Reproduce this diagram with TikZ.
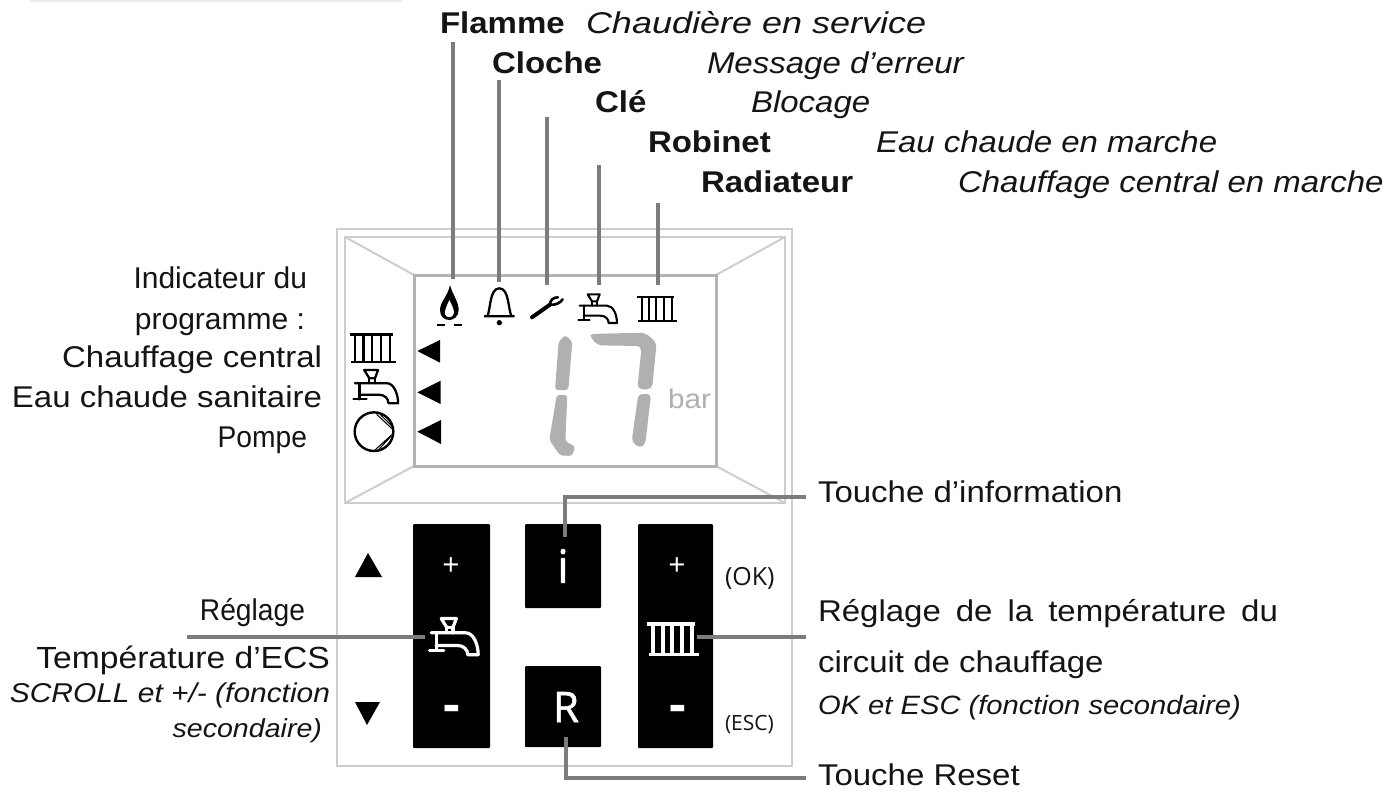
\documentclass[tikz,border=0pt]{standalone}
\usepackage{fontspec}
\setmainfont[FakeStretch=1.1]{Liberation Sans}
\newfontfamily\opensans{Open Sans}
\newfontfamily\opensemi[FakeBold=1.3]{Open Sans}
\newfontfamily\stA[FakeStretch=1.0]{Liberation Sans}
\newfontfamily\stB[FakeStretch=.94]{Liberation Sans}
\newfontfamily\stC[FakeStretch=1.2]{Liberation Sans}
\definecolor{txt}{HTML}{141414}
\definecolor{lead}{HTML}{7C7C7C}
\definecolor{pane}{HTML}{CDCDCD}
\definecolor{seg}{HTML}{B0B0B0}
\newcommand{\fs}[1]{\fontsize{#1}{#1}\selectfont}
\tikzset{
 lbl/.style={inner sep=0pt,outer sep=0pt,text=txt,font=\fs{30}},
 lw/.style={lbl,anchor=base west},
 le/.style={lbl,anchor=base east},
 bw/.style={lw,font=\fs{30}\bfseries},
 iw/.style={lw,font=\fs{30}\itshape},
 leader/.style={draw=lead,line width=3.2pt},
 paneline/.style={draw=pane,line width=2pt},
 btn/.style={fill=black,draw=none,rounded corners=1pt,inner sep=0pt,outer sep=0pt,anchor=north west},
 btxt/.style={text=white,inner sep=0pt,outer sep=0pt,font=\opensans},
 side/.style={text=txt,inner sep=0pt,outer sep=0pt,font=\opensans\fs{25},anchor=base west},
}
% icons: local units are the 3x zoom pixels
\newcommand{\tapicon}[5]{%
 \begin{scope}[shift={(#1,#2)},scale=#3,draw=#4,line width=#5,line join=round,line cap=round]
  \draw (-28,-44)--(8,-44)--(0,-23)--(-15,-23)--cycle;
  \draw (-15,-23)--(-15,-10) (0,-23)--(0,-10);
  \draw (-52,-10)--(30,-10) .. controls (50,-10) and (60,20) .. (60,42)--(35,42) .. controls (35,30) and (25,20) .. (10,20)--(-40,20);
  \draw (-40,-10)--(-40,32) (-56,32)--(-22,32);
 \end{scope}}
\newcommand{\radicon}[5]{%
 \begin{scope}[shift={(#1,#2)},scale=#3,draw=#4,line width=#5]
  \draw (-60,-35)--(50,-35) (-56,36)--(60,36);
  \foreach \vx in {-46,-24,-2,20,44}{\draw (\vx,-35)--(\vx,36);}
 \end{scope}}
\begin{document}
\begin{tikzpicture}[x=1pt,y=-1pt]
\useasboundingbox (0,0) rectangle (1392,793);
\fill[black!7] (30,0) rectangle (403,2);
% housing
\draw[paneline] (337,229) rectangle (792,766);
\draw[paneline] (345,237) rectangle (785,503);
\draw[paneline] (345,237)--(414,275) (785,237)--(716,275) (345,503)--(414,466) (785,503)--(716,466);
\draw[draw=pane!88!black,line width=3pt] (414,275) rectangle (716,466);
% named leader ends
\foreach \nm/\xa/\ya/\yb in {Fl/453/42/279,Cl/499/80/282,Ke/547/117/285,Ta/599/165/285,Ra/658/203/285}{
 \coordinate (\nm a) at (\xa,\ya); \coordinate (\nm b) at (\xa,\yb);}
\coordinate (iIn) at (565,537); \coordinate (iOut) at (806,497);
\coordinate (rIn) at (566,737); \coordinate (rOut) at (806,778);
\coordinate (hIn) at (697,637); \coordinate (hOut) at (806,637);
\coordinate (wIn) at (425,637); \coordinate (wOut) at (187,637);
% buttons
\node[btn,minimum width=77pt,minimum height=224pt] (btnW) at (413,524) {};
\node[btn,minimum width=76pt,minimum height=84pt] (btnI) at (525,524) {};
\node[btn,minimum width=76pt,minimum height=81pt] (btnR) at (525,666) {};
\node[btn,minimum width=75pt,minimum height=224pt] (btnH) at (638,524) {};
\node[btxt,font=\opensans\fs{30}] (pW) at (451,567) {+};
\node[btxt,font=\opensans\bfseries\fs{52}] (mW) at (452,714) {-};
\node[btxt,font=\opensans\fs{30}] (pH) at (677,567) {+};
\node[btxt,font=\opensans\bfseries\fs{52}] (mH) at (678,714) {-};
\node[btxt,font=\opensemi\fs{46}] (tI) at (563,566) {i};
\node[btxt,font=\opensemi\fs{42}] (tR) at (566,707) {R};
% leaders
\draw[leader] (Fla)--(Flb);
\draw[leader] (Cla)--(Clb);
\draw[leader] (Kea)--(Keb);
\draw[leader] (Taa)--(Tab);
\draw[leader] (Raa)--(Rab);
\draw[leader] (iIn)--(iIn|-iOut)--(iOut);
\draw[leader] (rIn)--(rIn|-rOut)--(rOut);
\draw[leader] (hIn)--(hOut);
\draw[leader] (wIn)--(wOut);
% top icons
\begin{scope}[shift={(330,220)},scale=1/3]
 \fill[black] (360,195) .. controls (368,225) and (386,245) .. (386,270) .. controls (386,290) and (370,300) .. (358,300) .. controls (343,300) and (330,290) .. (330,270) .. controls (330,245) and (353,230) .. cycle;
 \fill[white] (358,240) .. controls (368,260) and (374,272) .. (371,282) .. controls (367,295) and (348,295) .. (345,282) .. controls (343,272) and (350,258) .. cycle;
 \draw[black,line width=2.4pt] (320,315)--(345,315) (372,315)--(397,315);
 \draw[black,line width=2.3pt,line join=round] (462,289)--(554,289) (472,289) .. controls (482,270) and (478,205) .. (508,205) .. controls (538,205) and (534,270) .. (545,289);
 \fill[black] (508,308) circle (8);
 \draw[black,line width=4pt,line cap=round] (606,292)--(660,254);
 \draw[black,line width=2.6pt,line cap=round] (660,254) .. controls (675,256) and (690,250) .. (698,238);
 \draw[black,line width=2.6pt,line cap=round] (660,254) .. controls (660,240) and (670,232) .. (684,232);
 % pump
 \draw[black,line width=2.4pt] (132,635) circle (58);
 \draw[black,line width=1pt] (140,583)--(190,630) (152,585)--(190,622) (190,640)--(135,690) (182,650)--(145,690);
 % pointers
 \fill[black] (262,393)--(330,360)--(330,428)--cycle;
 \fill[black] (262,517)--(332,482)--(332,552)--cycle;
 \fill[black] (262,635)--(333,600)--(333,672)--cycle;
 % digit segments
 \fill[seg,rounded corners=3pt] (706,345)--(727,365)--(715,510)--(675,510)--(686,365)--cycle;
 \fill[seg,rounded corners=3pt] (680,525)--(712,525)--(706,664)--(736,680)--(726,708)--(690,706)--(658,660)--cycle;
 \fill[seg,rounded corners=5pt] (775,342)--(945,338)--(980,368)--(966,508)--(922,508)--(935,378)--(802,376)--cycle;
 \fill[seg,rounded corners=4pt] (925,522)--(963,522)--(946,672)--(930,684)--(905,665)--cycle;
\end{scope}
\tapicon{597}{309}{1/3}{black}{2.1pt}
\radicon{657}{309}{1/3}{black}{2.3pt}
\radicon{373}{348}{.39}{black}{2.5pt}
\tapicon{375}{387}{.385}{black}{2.3pt}
\tapicon{453}{637}{.42}{white}{3.2pt}
\radicon{673}{639}{.43}{white}{3.8pt}
\fill[black] (368,553)--(355,577)--(382,577)--cycle;
\fill[black] (355,702)--(380,702)--(367,725)--cycle;
% labels
\node[bw] (n1) at (440,33) {Flamme};
\node[iw,font=\stC\fs{30}\itshape] (n2) at (586,33) {Chaudière en service};
\node[bw] (n3) at (492,73) {Cloche};
\node[iw] (n4) at (707,73) {Message d’erreur};
\node[bw] (n5) at (595,112) {Clé};
\node[iw] (n6) at (751,112) {Blocage};
\node[bw] (n7) at (648,152) {Robinet};
\node[iw] (n8) at (876,152) {Eau chaude en marche};
\node[bw] (n9) at (701,192) {Radiateur};
\node[iw] (n10) at (958,192) {Chauffage central en marche};
\node[le,font=\stA\fs{30}] (l1) at (307,288) {Indicateur du};
\node[le,font=\stA\fs{30}] (l2) at (305,329) {programme :};
\node[le] (l3) at (322,367) {Chauffage central};
\node[le] (l4) at (322,407) {Eau chaude sanitaire};
\node[le,font=\stB\fs{30}] (l5) at (307,447) {Pompe};
\node[le,font=\stB\fs{30}] (l6) at (305,620) {Réglage};
\node[le,font=\fs{30.6}] (l7) at (330,668) {Température d’ECS};
\node[le,font=\fs{27.2}\itshape] (l8) at (330,702) {SCROLL et +/- (fonction};
\node[le,font=\fs{26}\itshape] (l9) at (322,737) {secondaire)};
\node[lw] (r1) at (818,502) {Touche d’information};
\node[lw] (r2) at (818,621) {\spaceskip=.5em Réglage de la température du};
\node[lw] (r3) at (818,672) {circuit de chauffage};
\node[lw,font=\fs{26.5}\itshape] (r4) at (818,714) {OK et ESC (fonction secondaire)};
\node[lw] (r5) at (818,785) {Touche Reset};
\node[side] (s1) at (725,585) {(OK)};
\node[side,font=\opensans\fs{21}] (s2) at (725,730) {(ESC)};
\node[lbl,anchor=base west,text=seg,font=\fs{27}] (s3) at (668,408) {bar};
\end{tikzpicture}
\end{document}
